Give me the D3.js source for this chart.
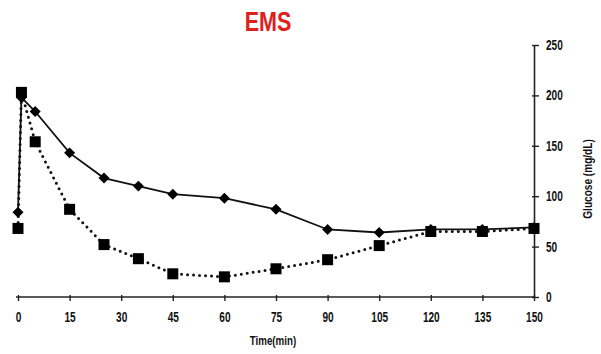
<!DOCTYPE html>
<html><head><meta charset="utf-8">
<script src="https://cdn.jsdelivr.net/npm/d3@7"></script>
<style>body{margin:0;background:#fff;} svg{display:block;}</style>
</head><body>
<svg id="c" width="601" height="354"></svg>
<script>
const times = [0, 1, 5, 15, 25, 35, 45, 60, 75, 90, 105, 120, 135, 150];
const seriesDiamond = [84, 198, 184, 143, 118, 110, 102, 98, 87, 67, 64, 67, 67, 69];
const seriesSquare = [68, 203, 154, 87, 52, 38, 23, 20, 28, 37, 51, 65, 65, 68];
const xTicks = [0, 15, 30, 45, 60, 75, 90, 105, 120, 135, 150];
const yTicks = [0, 50, 100, 150, 200, 250];

const font = "'Liberation Sans',Arial,sans-serif";
const svg = d3.select("#c");
const x = d3.scaleLinear().domain([0, 150]).range([18, 534]);
const y = d3.scaleLinear().domain([0, 250]).range([297, 45]);

function narrow(sel, f) {
  sel.each(function () {
    const w = this.getComputedTextLength();
    d3.select(this).attr("textLength", w * f).attr("lengthAdjust", "spacingAndGlyphs");
  });
}

// title
svg.append("text").attr("x", 268).attr("y", 31).attr("text-anchor", "middle")
  .attr("font-family", font).attr("font-weight", "bold").attr("font-size", 28)
  .attr("fill", "#e0201c").text("EMS").call(narrow, 0.77);

// x axis
const gx = svg.append("g").attr("transform", `translate(0,${y(0)})`)
  .call(d3.axisBottom(x).tickValues(xTicks).tickSize(4).tickSizeOuter(0));
gx.select(".domain").attr("stroke", "#222").attr("stroke-width", 1.6).attr("d", `M${x(0)-2},0H${x(150)}`);
gx.selectAll(".tick line").attr("stroke", "#222").attr("stroke-width", 1.4).attr("y1", -2);
gx.selectAll(".tick text").attr("font-family", font).attr("font-weight", "bold")
  .attr("font-size", 14).attr("fill", "#111").attr("y", 0).attr("dy", 0)
  .attr("transform", "translate(0,25)").call(narrow, 0.72);

// y axis right
const gy = svg.append("g").attr("transform", `translate(${x(150)},0)`)
  .call(d3.axisRight(y).tickValues(yTicks).tickSize(5).tickSizeOuter(0));
gy.select(".domain").attr("stroke", "#222").attr("stroke-width", 1.6);
gy.selectAll(".tick line").attr("stroke", "#222").attr("stroke-width", 1.4).attr("x1", -2);
gy.selectAll(".tick text").attr("font-family", font).attr("font-weight", "bold")
  .attr("font-size", 14).attr("fill", "#111").attr("x", 12).call(narrow, 0.72);

// axis labels
svg.append("text").attr("x", 273).attr("y", 345).attr("text-anchor", "middle")
  .attr("font-family", font).attr("font-weight", "bold").attr("font-size", 13)
  .attr("fill", "#111").text("Time(min)").call(narrow, 0.75);
svg.append("text").attr("transform", `translate(592,179) rotate(-90)`).attr("text-anchor", "middle")
  .attr("font-family", font).attr("font-weight", "bold").attr("font-size", 12)
  .attr("fill", "#111").text("Glucose (mg/dL)").call(narrow, 0.84);

// lines
const line = d3.line().x(d => x(d[0])).y(d => y(d[1]));
const dData = times.map((t, i) => [t, seriesDiamond[i]]);
const sData = times.map((t, i) => [t, seriesSquare[i]]);

svg.append("path").datum(sData).attr("d", line).attr("fill", "none")
  .attr("stroke", "#111").attr("stroke-width", 3).attr("stroke-linecap", "round")
  .attr("stroke-dasharray", "0,6");
svg.append("path").datum(dData).attr("d", line).attr("fill", "none")
  .attr("stroke", "#111").attr("stroke-width", 1.8);

// markers
svg.append("g").selectAll("rect").data(sData).join("rect")
  .attr("x", d => x(d[0]) - 5.5).attr("y", d => y(d[1]) - 5.5)
  .attr("width", 11).attr("height", 11).attr("fill", "#000");
svg.append("g").selectAll("path").data(dData).join("path")
  .attr("d", d3.symbol().type(d3.symbolSquare).size(60))
  .attr("transform", d => `translate(${x(d[0])},${y(d[1])}) rotate(45)`)
  .attr("fill", "#000");
</script>
</body></html>
